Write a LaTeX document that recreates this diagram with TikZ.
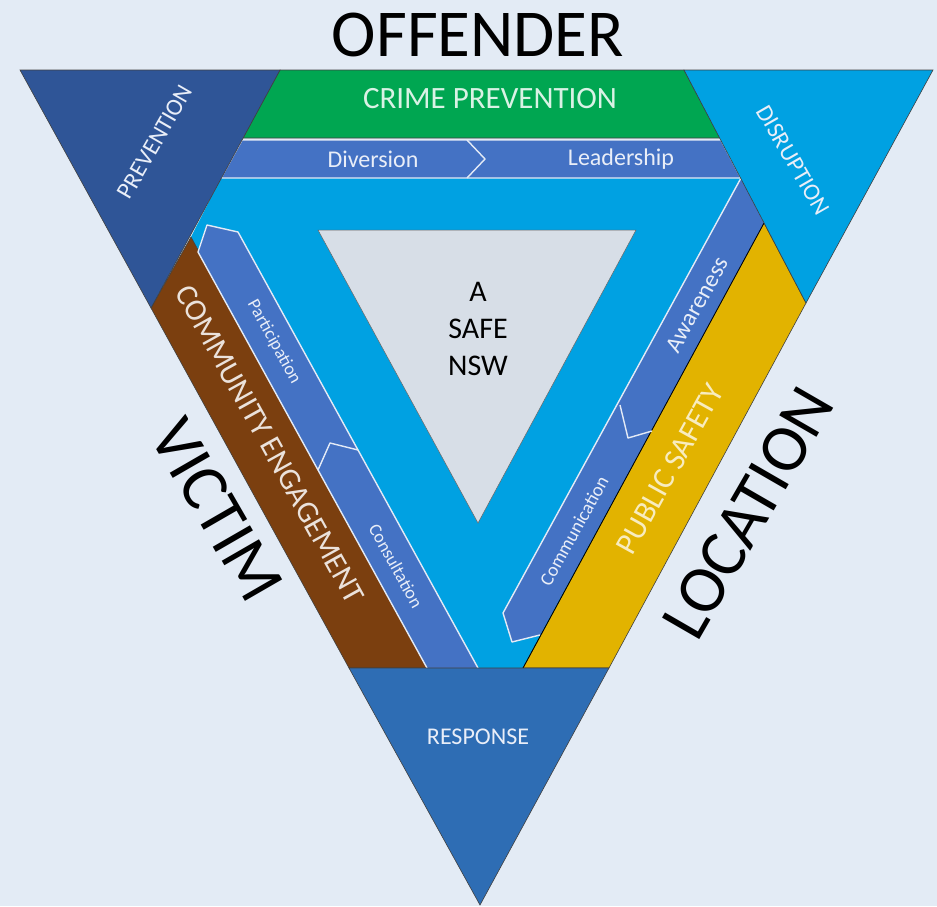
\documentclass[tikz,border=0pt]{standalone}
\usepackage{fontspec}
\setmainfont{Carlito}
\usepackage{tikz}

\definecolor{bgcol}{HTML}{E3EBF5}
\definecolor{prevblue}{HTML}{2F5597}
\definecolor{skyb}{HTML}{00A1E2}
\definecolor{bandblue}{HTML}{4472C4}
\definecolor{cpgreen}{HTML}{00A651}
\definecolor{cebrown}{HTML}{7B3F0F}
\definecolor{psyellow}{HTML}{E2B300}
\definecolor{respblue}{HTML}{2E6DB4}
\definecolor{safegrey}{HTML}{D7DEE7}
\newcommand{\fsz}[1]{\fontsize{#1}{#1}\selectfont}

\begin{document}
\begin{tikzpicture}[x=1pt, y=-1pt,
    edge/.style={draw=black!75, line width=0.6},
    wline/.style={draw=white!85!bandblue, line width=1.4, line join=round},
    lbl/.style={inner sep=0pt, text=white!88!bandblue},
    big/.style={inner sep=0pt, font=\fsz{67}}]
    \fill[bgcol] (0,0) rectangle (937,906);
    % ring behind everything
    \fill[skyb] (221,178) -- (741,178) -- (764,223) -- (523,668) -- (427,668) -- (191,237) -- cycle;
    % top bands
    \fill[cpgreen, edge] (280,70) -- (684,70) -- (720,138) -- (243,138) -- cycle;
    \filldraw[fill=bandblue, wline] (242,140) -- (721,140) -- (741,178) -- (221,178) -- cycle;
    \draw[wline] (467,140) -- (485,159) -- (467,178);
    % side bands
    \fill[cebrown, edge] (191,237) -- (151,308) -- (349,668) -- (427,668) -- cycle;
    \fill[psyellow, edge] (764,223) -- (806,303) -- (609,668) -- (523,668) -- cycle;
    \fill[bandblue] (207,225) -- (238,232) -- (478,668) -- (427,668) -- (198,252) -- cycle;
    \draw[wline] (478,668) -- (238,232) -- (207,225) -- (198,252) -- (427,668);
    \draw[wline] (318,470) -- (330,443) -- (358,450);
    \fill[bandblue] (741,178) -- (764,223) -- (540,635) -- (512,642) -- (503,613) -- cycle;
    \draw[wline] (741,178) -- (503,613) -- (512,642) -- (540,635);
    \draw[black, line width=0.8] (764,223) -- (523,668);
    \draw[wline] (620,405) -- (628,438) -- (652,431);
    % corner triangles
    \fill[prevblue, edge] (20,70) -- (280,70) -- (151,308) -- cycle;
    \fill[skyb, edge] (684,70) -- (933,70) -- (806,303) -- cycle;
    \fill[respblue, edge] (349,668) -- (609,668) -- (480,905) -- cycle;
    \filldraw[fill=safegrey, draw=black!60, line width=0.5] (318,230) -- (636,230) -- (478,523) -- cycle;

    \node[big] (offender) at (478,35) {OFFENDER};
    \node[big, rotate=-60] (victim) at (217,510) {VICTIM};
    \node[big, rotate=60] (location) at (748,513) {LOCATION};
    \node[lbl, text=white!85!cpgreen, font=\fsz{31}] (crimeprev) at (490,99) {CRIME PREVENTION};
    \node[lbl, font=\fsz{24}] (diversion) at (373,159) {Diversion};
    \node[lbl, font=\fsz{24}] (leadership) at (621,159) {Leadership};
    \node[lbl, font=\fsz{24}, rotate=60] (prevention) at (155,142) {PREVENTION};
    \node[lbl, font=\fsz{24}, rotate=-60] (disruption) at (793,160) {DISRUPTION};
    \node[lbl, font=\fsz{24}] (response) at (478,737) {RESPONSE};
    \node[inner sep=0pt, align=center, font=\fontsize{30}{37}\selectfont] (safensw) at (478,329) {A\\SAFE\\NSW};
    \node[lbl, text=white!85!cebrown, font=\fsz{31}, rotate=-61] (community) at (270,444) {COMMUNITY ENGAGEMENT};
    \node[lbl, font=\fsz{18}, rotate=-61] (participation) at (274,342) {Participation};
    \node[lbl, font=\fsz{18}, rotate=-61] (consultation) at (396,566) {Consultation};
    \node[lbl, font=\fsz{24}, rotate=61] (awareness) at (697,305) {Awareness};
    \node[lbl, font=\fsz{19}, rotate=61] (communication) at (574,531) {Communication};
    \node[lbl, text=white!75!psyellow, font=\fsz{31}, rotate=61] (publicsafety) at (670,469) {PUBLIC SAFETY};
\end{tikzpicture}
\end{document}
